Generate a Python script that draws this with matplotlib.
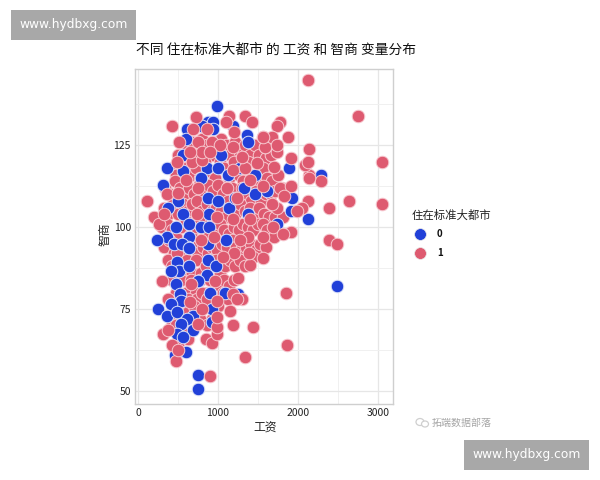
import matplotlib
matplotlib.use('Agg')
import matplotlib.pyplot as plt
from matplotlib.lines import Line2D
from matplotlib.patches import Rectangle, Ellipse
import numpy as np

plt.rcParams['font.family'] = ['Noto Sans CJK SC', 'DejaVu Sans']

title = '不同 住在标准大都市 的 工资 和 智商 变量分布'
xlabel = '工资'
ylabel = '智商'
legend_title = '住在标准大都市'
groups = ['0', '1']
x_ticks = [0, 1000, 2000, 3000]
y_ticks = [50, 75, 100, 125]

# (wage, IQ) pairs
red_back = [
(500,122),(560,126),(620,124),(680,126),(740,122),(800,127),(860,125),(920,122),(980,124),(1040,127),(1100,125),(1150,122),(1220,126),(1280,123),(1340,125),(1400,122),(1460,125),(1520,122),(1600,121),(1660,122),
(420,118),(480,116),(540,120),(600,118),(660,116),(720,118),(780,115),(840,120),(900,117),(960,115),(1020,120),(1080,118),(1140,115),(1200,120),(1260,116),(1320,114),(1380,120),(1440,116),(1500,114),(1560,118),(1620,115),(1680,114),(1750,116),(1800,112),
(340,112),(400,110),(460,114),(520,112),(580,110),(640,112),(700,110),(760,113),(820,110),(880,113),(940,111),(1000,113),(1060,110),(1120,108),(1180,112),(1240,109),(1300,112),(1360,110),(1420,108),(1480,111),(1540,108),(1600,110),(1660,110),(1720,111),(1780,112),
(320,106),(380,104),(440,107),(500,104),(560,107),(620,105),(680,107),(740,108),(800,105),(860,107),(920,105),(980,106),(1040,105),(1100,103),(1160,106),(1220,104),(1280,107),(1340,105),(1400,106),(1460,104),(1520,106),(1580,104),(1640,103),(1720,103),(1820,103),
(300,100),(360,101),(420,99),(480,97),(540,100),(600,102),(660,98),(720,100),(780,102),(840,98),(900,101),(960,99),(1020,101),(1080,99),(1140,98),(1200,100),(1260,99),(1320,101),(1380,100),(1440,99),(1500,101),(1560,101),(1620,99),(1700,97),
(330,94),(390,96),(450,92),(510,94),(570,92),(630,96),(690,94),(750,92),(810,94),(870,92),(930,94),(990,93),(1050,95),(1110,94),(1170,96),(1230,94),(1290,93),(1350,94),(1420,95),(1480,93),(1530,95),(1600,94),
(370,90),(430,88),(490,92),(550,86),(610,90),(670,86),(730,90),(790,86),(850,88),(910,90),(970,90),(1030,86),(1090,88),(1150,90),(1210,88),(1280,90),(1340,88),(1440,91),
(420,84),(480,80),(540,84),(600,80),(660,84),(720,80),(780,84),(840,80),(900,84),(960,80),(1020,82),(1080,84),(1140,82),(1200,84),
(380,78),(440,76),(500,73),(560,76),(620,78),(680,70),(740,78),(800,80),(860,78),(920,72),(1000,76),(1060,80),(1120,78),
(420,70),(480,70),(560,68),(620,74),(700,76),(780,72),(860,70),(500,64),(620,66),
]
red_front = [
(725,133.5),(425,131),(1140,134),(1340,134),(1425,132),(1100,132),(860,130),(690,130),(1200,129),(510,126),(750,126),(925,126),(1025,125),(1190,124.5),(1560,127.5),(1590,124.5),
(490,120),(675,120),(800,120.5),(800,123),(650,123),(900,123),(1190,117.5),(1340,118),(1490,119.5),(1300,121.5),(600,114.5),(360,110),(500,110.5),(110,108),(200,103),(260,101),(325,104),(740,104),(990,103),(1190,102.5),(1400,102.5),(1560,97),(1375,97),(950,97),(790,96),(1275,96),(750,112),(1110,112),(1400,114.5),(1560,112.5),(1240,109),
(2125,145),(2750,134),(3050,120),(3050,107),(2640,108),(2390,106),(2290,114),(2140,124),(1875,127.5),(1775,132),(1740,131),(2140,116),(2140,115),(2090,119),(2125,120),(1910,121),(1910,112.5),(2125,108),(2050,106),(1990,105),(1825,109.5),(1740,106),(1675,107),(1690,100),(1910,98.5),(1810,98),(2390,96),(2490,95),(1700,118.5),(1740,123),(1590,124.5),(1675,127.5),(1740,125),(1560,127.5),
(1850,80),(1860,64),(1340,60.5),(900,54.5),(475,59),(425,64),(500,62.5),(310,67.5),(375,68.5),(850,66),(925,64.5),(990,67.5),(990,69.5),(990,72.5),(1190,70),(1440,69.5),(1150,74.5),(750,70.5),(800,75),(650,77),(990,77.5),(660,82.5),(300,83.5),(960,83.5),(1250,84.5),(1190,79.5),(1300,78),(1240,78),(1400,88.5),(1560,90.5),(1390,92),(1200,92),(1060,91),
]
blue = [
(990,137),(875,132),(940,132),(800,131),(940,130),(1190,131),(1360,128),(610,130),(600,127),(560,122),(1040,122),(360,118),(310,113),(560,117),(860,118),(1000,118),(790,115),(1120,116),(875,109),(1000,108),(1460,110),(500,108),(375,106),(560,104),(890,104),(1140,106),(1375,104),(475,100),(640,101),(790,100),(890,100),(360,97),(240,96),(450,95),(640,97),(1100,96),(625,94),(875,95),(550,95),
(640,93.5),(875,90),(490,89.5),(510,86.5),(640,88),(410,86.5),(860,85.5),(975,88),(750,83.5),(475,82.5),(900,80),(1090,80),(525,79.5),(540,77.5),(1250,79.5),(410,76.5),(250,75),(360,73),(490,74),(925,75),(690,73),(610,72),(540,70.5),(925,71),(690,68.5),(490,67.5),(560,66.5),(600,62),(460,61),(750,55),(750,50.5),
(1890,118),(2290,116),(1910,105),(2125,102.5),(1925,109),(1610,111),(1740,101),(2490,82),
(1380,126),(1460,116),(1330,112),(1280,118),(1220,109),
]

RED = '#DE5A70'
BLUE = '#2140D8'

fig = plt.figure(figsize=(6, 4.8), dpi=100)
W, H = 600, 480
ax = fig.add_axes([135/W, 1-404/H, (393-135)/W, (404-69)/H])
ax.set_xlim(-37, 3190)
ax.set_ylim(46, 148.3)
ax.set_xticks(x_ticks)
ax.set_yticks(y_ticks)
ax.set_xticks([500, 1500, 2500], minor=True)
ax.set_yticks([62.5, 87.5, 112.5, 137.5], minor=True)
ax.grid(True, which='major', color='#E6E6E6', lw=0.9)
ax.grid(True, which='minor', color='#F0F0F0', lw=0.7)
ax.set_axisbelow(True)
for s in ax.spines.values():
    s.set_color('#CFCFCF')
    s.set_linewidth(1.0)
ax.tick_params(which='both', length=0)
ax.tick_params(which='major', labelsize=7.5, labelcolor='#222222', pad=3)
for t in ax.get_xticklabels() + ax.get_yticklabels():
    t.set_fontweight('medium')

kw = dict(s=82, linewidths=0.7, clip_on=False, zorder=3)
rb = np.array(red_back)
rf = np.array(red_front)
bl = np.array(blue)
ax.scatter(rb[:, 0], rb[:, 1], c=RED, edgecolors='#F7C9D0', **kw)
ax.scatter(bl[:, 0], bl[:, 1], c=BLUE, edgecolors='#DDE2F8', **kw)
ax.scatter(rf[:, 0], rf[:, 1], c=RED, edgecolors='#F7C9D0', **kw)

fig.text(136/W, 1-50/H, title, fontsize=9.9, color='#111111', va='center', ha='left')
fig.text(265/W, 1-428/H, xlabel, fontsize=8.5, color='#222222', va='center', ha='center')
fig.text(105/W, 1-234/H, ylabel, fontsize=8.5, color='#222222', va='center', ha='center', rotation=90)

# legend
fig.text(412/W, 1-215/H, legend_title, fontsize=8.2, color='#222222', va='center', ha='left')
for g, c, py in zip(groups, [BLUE, RED], [234, 253]):
    fig.add_artist(Line2D([420/W], [1-py/H], marker='o', ms=8.5, mfc=c, mec='#E8E8E8', mew=0.5,
                          ls='none', transform=fig.transFigure))
    fig.text(437/W, 1-py/H, g, fontsize=7, fontweight='bold', color='#111111', va='center', ha='left')

# watermarks
for (x0, y0) in [(11, 10), (464, 440)]:
    fig.add_artist(Rectangle((x0/W, 1-(y0+30)/H), 125/W, 30/H, transform=fig.transFigure,
                             fc='#A8A8A8', ec='none'))
    fig.text((x0+62.5)/W, 1-(y0+14.5)/H, 'www.hydbxg.com', fontsize=8.8, fontweight='medium', color='white',
             family='DejaVu Sans', va='center', ha='center')
fig.add_artist(Ellipse((420/W, 1-422/H), 8/W, 7/H, transform=fig.transFigure, fc='none', ec='#CFCFCF', lw=0.9))
fig.add_artist(Ellipse((425/W, 1-424/H), 7/W, 6/H, transform=fig.transFigure, fc='white', ec='#CFCFCF', lw=0.9))
fig.text(432/W, 1-422.5/H, '拓端数据部落', fontsize=7.2, color='#A5A5A5', va='center', ha='left')

fig.savefig('out.png', dpi=100, facecolor='white')
